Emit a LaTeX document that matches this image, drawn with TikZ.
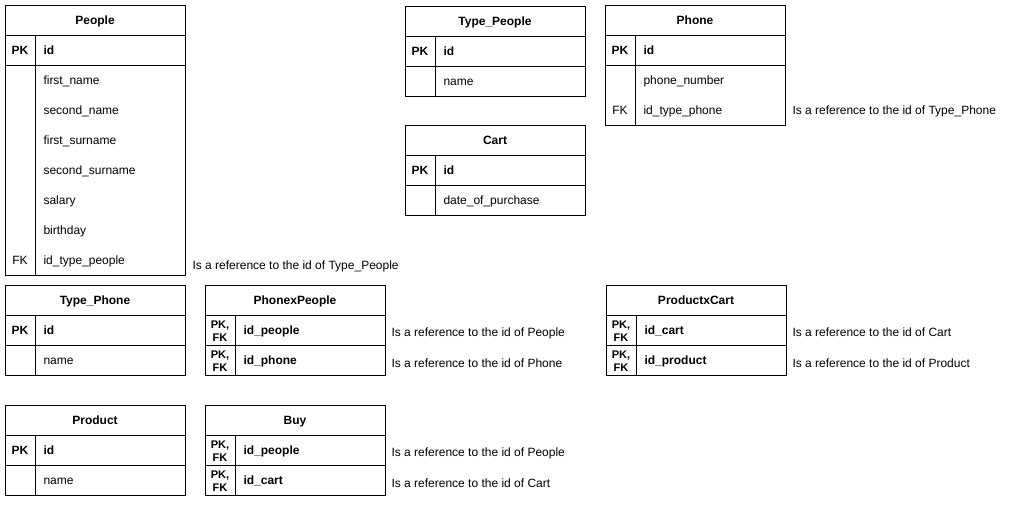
\documentclass[tikz,border=0pt]{standalone}
\usepackage{fontspec}
\setmainfont{Liberation Sans}
\begin{document}
\begin{tikzpicture}[x=0.75pt,y=-0.75pt,line width=0.75pt,
  txt/.style={inner sep=0,text height=6.5pt,text depth=1.9pt,yshift=-0.7pt},
  ttl/.style={txt,font=\fontsize{9}{10}\selectfont\bfseries},
  fld/.style={txt,font=\fontsize{9}{10}\selectfont,anchor=west},
  bfld/.style={txt,font=\fontsize{9}{10}\selectfont\bfseries,anchor=west},
  keyc/.style={txt,font=\fontsize{9}{10}\selectfont},
  bkey/.style={txt,font=\fontsize{9}{10}\selectfont\bfseries},
  jkey/.style={font=\fontsize{8.3}{9.3}\selectfont\bfseries,inner sep=0,align=center},
  note/.style={txt,font=\fontsize{9}{10}\selectfont,anchor=west}]
\useasboundingbox (0,0) rectangle (1011,508);

% People
\draw (5,5) rectangle (185,275);
\draw (5,35) -- (185,35) (5,65) -- (185,65) (35,35) -- (35,275);
\node[ttl] (people) at (95,20) {People};
\node[bkey] (people-pk) at (20,50) {PK};
\node[bfld] (people-id) at (43,50) {id};
\node[fld] (people-f1) at (43,80) {first\_name};
\node[fld] (people-f2) at (43,110) {second\_name};
\node[fld] (people-f3) at (43,140) {first\_surname};
\node[fld] (people-f4) at (43,170) {second\_surname};
\node[fld] (people-f5) at (43,200) {salary};
\node[fld] (people-f6) at (43,230) {birthday};
\node[keyc] (people-fk) at (20,260) {FK};
\node[fld] (people-f7) at (43,260) {id\_type\_people};
\node[note] (people-n) at (192,265) {Is a reference to the id of Type\_People};

% Type_People
\draw (405,6) rectangle (585,96);
\draw (405,36) -- (585,36) (405,66) -- (585,66) (435,36) -- (435,96);
\node[ttl] (tp) at (495,21) {Type\_People};
\node[bkey] (tp-pk) at (420,51) {PK};
\node[bfld] (tp-id) at (443,51) {id};
\node[fld] (tp-f1) at (443,81) {name};

% Phone
\draw (605,5) rectangle (785,125);
\draw (605,35) -- (785,35) (605,65) -- (785,65) (635,35) -- (635,125);
\node[ttl] (phone) at (695,20) {Phone};
\node[bkey] (phone-pk) at (620,50) {PK};
\node[bfld] (phone-id) at (643,50) {id};
\node[fld] (phone-f1) at (643,80) {phone\_number};
\node[keyc] (phone-fk) at (620,110) {FK};
\node[fld] (phone-f2) at (643,110) {id\_type\_phone};
\node[note] (phone-n) at (792,110) {Is a reference to the id of Type\_Phone};

% Cart
\draw (405,125) rectangle (585,215);
\draw (405,155) -- (585,155) (405,185) -- (585,185) (435,155) -- (435,215);
\node[ttl] (cart) at (495,140) {Cart};
\node[bkey] (cart-pk) at (420,170) {PK};
\node[bfld] (cart-id) at (443,170) {id};
\node[fld] (cart-f1) at (443,200) {date\_of\_purchase};

% Type_Phone
\draw (5,285) rectangle (185,375);
\draw (5,315) -- (185,315) (5,345) -- (185,345) (35,315) -- (35,375);
\node[ttl] (tph) at (95,300) {Type\_Phone};
\node[bkey] (tph-pk) at (20,330) {PK};
\node[bfld] (tph-id) at (43,330) {id};
\node[fld] (tph-f1) at (43,360) {name};

% PhonexPeople
\draw (205,285) rectangle (385,375);
\draw (205,315) -- (385,315) (205,345) -- (385,345) (235,315) -- (235,375);
\node[ttl] (pxp) at (295,300) {PhonexPeople};
\node[jkey] (pxp-k1) at (220,331) {PK,\\FK};
\node[bfld] (pxp-f1) at (243,330) {id\_people};
\node[jkey] (pxp-k2) at (220,361) {PK,\\FK};
\node[bfld] (pxp-f2) at (243,360) {id\_phone};
\node[note] (pxp-n1) at (391,332) {Is a reference to the id of People};
\node[note] (pxp-n2) at (391,363) {Is a reference to the id of Phone};

% ProductxCart
\draw (606,285) rectangle (786,375);
\draw (606,315) -- (786,315) (606,345) -- (786,345) (636,315) -- (636,375);
\node[ttl] (pxc) at (696,300) {ProductxCart};
\node[jkey] (pxc-k1) at (621,331) {PK,\\FK};
\node[bfld] (pxc-f1) at (644,330) {id\_cart};
\node[jkey] (pxc-k2) at (621,361) {PK,\\FK};
\node[bfld] (pxc-f2) at (644,360) {id\_product};
\node[note] (pxc-n1) at (792,332) {Is a reference to the id of Cart};
\node[note] (pxc-n2) at (792,363) {Is a reference to the id of Product};

% Product
\draw (5,405) rectangle (185,495);
\draw (5,435) -- (185,435) (5,465) -- (185,465) (35,435) -- (35,495);
\node[ttl] (prod) at (95,420) {Product};
\node[bkey] (prod-pk) at (20,450) {PK};
\node[bfld] (prod-id) at (43,450) {id};
\node[fld] (prod-f1) at (43,480) {name};

% Buy
\draw (205,405) rectangle (385,495);
\draw (205,435) -- (385,435) (205,465) -- (385,465) (235,435) -- (235,495);
\node[ttl] (buy) at (295,420) {Buy};
\node[jkey] (buy-k1) at (220,451) {PK,\\FK};
\node[bfld] (buy-f1) at (243,450) {id\_people};
\node[jkey] (buy-k2) at (220,481) {PK,\\FK};
\node[bfld] (buy-f2) at (243,480) {id\_cart};
\node[note] (buy-n1) at (391,452) {Is a reference to the id of People};
\node[note] (buy-n2) at (391,483) {Is a reference to the id of Cart};
\end{tikzpicture}
\end{document}
